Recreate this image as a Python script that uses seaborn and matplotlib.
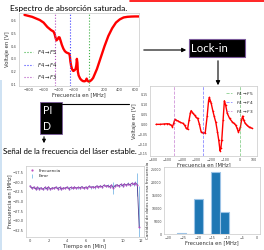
import numpy as np
import pandas as pd
import matplotlib
matplotlib.use("Agg")
import matplotlib.pyplot as plt
import seaborn as sns
from matplotlib.patches import Rectangle, FancyArrowPatch
from matplotlib.lines import Line2D

# ---------------- data ----------------
# saturated absorption spectrum (top-left)
abs_freq = [-850, -750, -650, -600, -550, -500, -470, -455, -440, -430, -415, -400, -390,
            -375, -360, -340, -320, -300, -280, -262, -255, -248, -238, -225, -210, -195,
            -180, -170, -163, -156, -150, -140, -120, -100, -80, -60, -45, -35, -25, -10,
            10, 30, 50, 100, 150, 200, 250, 300, 350, 400, 450, 500, 550, 600, 650]
abs_volt = [0.645, 0.63, 0.605, 0.585, 0.55, 0.525, 0.515, 0.495, 0.46, 0.445, 0.455, 0.47, 0.468,
            0.44, 0.41, 0.38, 0.36, 0.35, 0.345, 0.34, 0.32, 0.28, 0.245, 0.218, 0.205, 0.21,
            0.22, 0.25, 0.30, 0.27, 0.20, 0.17, 0.145, 0.132, 0.125, 0.124, 0.13, 0.145, 0.13, 0.122,
            0.125, 0.135, 0.15, 0.22, 0.31, 0.40, 0.48, 0.54, 0.585, 0.61, 0.625, 0.63, 0.632, 0.633, 0.633]

# lock-in (derivative) signal (middle-right)
der_freq = [-577, -550, -520, -500, -486, -472, -464, -456, -448, -437, -425, -410, -391, -380,
            -369, -360, -350, -340, -335, -325, -312, -300, -290, -278, -267, -251, -238, -225,
            -215, -210, -203, -197, -186, -176, -165, -154, -145, -136, -130, -124, -115, -106,
            -98, -86, -70, -52, -40, -29, -18, -11, -3, 5, 12, 20, 28, 38, 50, 61, 72, 84]
der_volt = [0.0, 0.0, 0.002, 0.003, 0.002, -0.005, -0.012, 0.005, 0.025, 0.02, 0.017, 0.01, 0.005, -0.005,
            -0.02, -0.025, 0.02, 0.06, 0.07, 0.058, 0.047, 0.035, 0.03, 0.0, -0.037, -0.045, -0.042, 0.04,
            0.12, 0.137, 0.12, 0.107, 0.07, 0.04, 0.01, -0.037, -0.08, -0.134, -0.12, -0.08, 0.02, 0.12,
            0.1, 0.056, 0.03, 0.013, 0.005, -0.003, -0.02, -0.037, -0.03, -0.012, 0.02, 0.042, 0.02, 0.005,
            -0.005, -0.012, -0.016, -0.02]

# hyperfine transitions
trans_labels = [r"$F4\rightarrow F5$", r"$F4\rightarrow F4$", r"$F4\rightarrow F3$"]
trans_freq = [0, -251, -452]
trans_colors = ["#3cb043", "#3a3aff", "#b04cc0"]

# stabilised frequency vs time (bottom-left)
t_min = [0.0, 0.2, 0.4, 0.6, 0.8, 1.0, 1.2, 1.4, 1.6, 1.8, 2.0, 2.2, 2.4, 2.6, 2.8, 3.0, 3.2, 3.4,
         3.6, 3.8, 4.0, 4.2, 4.4, 4.6, 4.8, 5.0, 5.2, 5.4, 5.6, 5.8, 6.0, 6.2, 6.4, 6.6, 6.8, 7.0,
         7.2, 7.4, 7.6, 7.8, 8.0, 8.2, 8.4, 8.6, 8.8, 9.0, 9.2, 9.4, 9.6, 9.8, 10.0, 10.2, 10.4,
         10.6, 10.8, 11.0, 11.2, 11.4, 11.6, 11.8]
f_mhz = [-20.9, -21.5, -21.2, -21.7, -21.3, -21.6, -21.4, -21.8, -21.3, -21.6, -21.2, -21.7, -21.4,
         -21.5, -21.2, -21.6, -21.3, -21.7, -21.4, -21.5, -21.2, -21.6, -21.3, -21.5, -21.2, -21.5,
         -21.3, -21.4, -21.1, -21.5, -21.2, -21.4, -21.0, -21.3, -21.1, -21.3, -20.9, -21.2, -20.9,
         -21.1, -20.7, -21.0, -20.8, -21.1, -20.7, -21.4, -20.8, -20.6, -20.9, -20.5, -20.8, -20.4,
         -20.7, -20.3, -20.6, -20.2, -20.5, -20.1, -20.6, -31.8]
f_err = [0.3, 0.3, 0.3, 0.3, 0.3, 0.3, 0.3, 0.3, 0.3, 0.3, 0.3, 0.3, 0.3, 0.3, 0.3, 0.3, 0.3, 0.3,
         0.3, 0.3, 0.3, 0.3, 0.3, 0.3, 0.3, 0.3, 0.3, 0.3, 0.3, 0.3, 0.3, 0.3, 0.3, 0.3, 0.3, 0.3,
         0.3, 0.3, 0.3, 0.3, 0.3, 0.3, 0.3, 0.3, 0.3, 1.5, 0.3, 0.3, 0.3, 0.3, 0.3, 0.3, 0.3,
         0.3, 0.3, 0.4, 0.5, 0.6, 3.0, 11.0]

# histogram of frequencies (bottom-right)
hist_edges = [-27.0, -24.1, -21.2, -18.3, -15.4, -12.5, -9.6]
hist_counts = [400, 0, 13400, 0, 23800, 8400]

# ---------------- figure ----------------
sns.set_style("white")
plt.rcParams['font.family'] = ['DejaVu Sans']

W, H = 264, 250
fig = plt.figure(figsize=(2.64, 2.5), dpi=100)


def rect(x0, y0, x1, y1):
    return [x0 / W, 1 - y1 / H, (x1 - x0) / W, (y1 - y0) / H]


def fx(px):
    return px / W


def fy(py):
    return 1 - py / H


def style(ax, tick=2.6):
    for s in ax.spines.values():
        s.set_color("#c8c8c8")
        s.set_linewidth(0.5)
    ax.tick_params(labelsize=tick, length=1.0, width=0.3, pad=0.6, colors="#444444")


lab = dict(fontsize=3.8, labelpad=0.4, color="#333333")

# --- top-left: absorption spectrum
ax1 = fig.add_axes(rect(19, 13, 139, 86))
sns.lineplot(x=abs_freq, y=abs_volt, ax=ax1, color="red", lw=1.7)
for lbl, fr, c in zip(trans_labels, trans_freq, trans_colors):
    ax1.axvline(fr, color=c, ls=":", lw=0.8, label=lbl)
ax1.set_xlim(-922, 652)
ax1.set_ylim(0.087, 0.66)
ax1.set_xticks([-800, -600, -400, -200, 0, 200, 400, 600])
ax1.set_yticks([0.1, 0.2, 0.3, 0.4, 0.5, 0.6])
ax1.set_xlabel("Frecuencia en [MHz]", **lab)
ax1.set_ylabel("Voltaje en [V]", **lab)
style(ax1)
ax1.legend(loc="lower left", fontsize=3.8, frameon=False, handlelength=1.6,
           labelspacing=0.8, borderaxespad=0.6)

# --- middle-right: lock-in signal
ax2 = fig.add_axes(rect(150, 86, 257, 156))
sns.lineplot(x=der_freq, y=der_volt, ax=ax2, color="red", lw=1.0,
             marker="o", markersize=1.2, markeredgewidth=0)
for lbl, fr, c in zip(trans_labels, trans_freq, trans_colors):
    ax2.axvline(fr, color=c, ls="--", lw=0.6, alpha=0.6, label=lbl)
ax2.set_xlim(-619, 119)
ax2.set_ylim(-0.161, 0.195)
ax2.set_xticks([-600, -500, -400, -300, -200, -100, 0, 100])
ax2.set_yticks([-0.15, -0.10, -0.05, 0.0, 0.05, 0.10, 0.15])
ax2.set_xlabel("Frecuencia en [MHz]", **lab)
ax2.set_ylabel("Voltaje en [V]", **lab)
style(ax2, tick=2.3)
ax2.legend(loc="upper right", fontsize=3.2, frameon=False, handlelength=1.4,
           labelspacing=0.5, borderaxespad=0.4)

# --- bottom-left: frequency vs time
ax3 = fig.add_axes(rect(26, 166, 144, 237))
eb = ax3.errorbar(t_min, f_mhz, yerr=f_err, fmt="none", ecolor="#8fc3ea",
                  elinewidth=0.7, label="Error")
sns.lineplot(x=t_min, y=f_mhz, ax=ax3, color="#4a3a8c", lw=0.6,
             marker="o", markersize=1.4, markeredgewidth=0, markerfacecolor="#b04cc0")
ax3.set_xlim(-0.43, 12.32)
ax3.set_ylim(-34.34, -15.66)
ax3.set_xticks([0, 2, 4, 6, 8, 10, 12])
ax3.set_yticks([-17.5, -20.0, -22.5, -25.0, -27.5, -30.0, -32.5])
ax3.set_xlabel("Tiempo en [Min]", **lab)
ax3.set_ylabel("Frecuencia en [MHz]", **lab)
style(ax3)
h_freq = Line2D([], [], ls="none", marker="o", markersize=1.6, color="#c050c0", markeredgewidth=0)
ax3.legend([h_freq, eb], ["Frecuencia", "Error"], loc="upper left", fontsize=3.0,
           frameon=False, handlelength=1.6, labelspacing=0.4, borderaxespad=0.2)

# --- bottom-right: histogram
ax4 = fig.add_axes(rect(164, 167, 260, 234))
centers = [(a + b) / 2 for a, b in zip(hist_edges[:-1], hist_edges[1:])]
sns.histplot(x=centers, weights=hist_counts, bins=hist_edges, ax=ax4,
             color="#1f77b4", alpha=1.0, edgecolor="#9cc3e6", linewidth=0.8)
ax4.set_xlim(-31.35, 1.0)
ax4.set_ylim(0, 25800)
ax4.set_xticks([-30, -25, -20, -15, -10, -5, 0])
ax4.set_yticks([0, 5000, 10000, 15000, 20000, 25000])
ax4.set_xlabel("Frecuencia en [MHz]", **lab)
ax4.set_ylabel("Cantidad de datos con esa frecuencia", fontsize=3.0, labelpad=1.0, color="#333333")
style(ax4, tick=2.3)

# ---------------- slide decorations ----------------
slide_font = ['Lato', 'DejaVu Sans']
fig.add_artist(Line2D([fx(130), fx(264)], [fy(0.6), fy(0.6)], color="red", lw=1.2,
                      transform=fig.transFigure))
fig.add_artist(Rectangle((0, fy(250)), fx(1.6), (250 - 80) / H, transform=fig.transFigure,
                         facecolor="#cfe2f3", edgecolor="none"))

fig.text(fx(10), fy(8), "Espectro de absorción saturada.", fontsize=6.0, family=slide_font,
         ha="left", va="center", color="black")
fig.text(fx(3), fy(151), "Señal de la frecuencia del láser estable.", fontsize=5.7,
         family=slide_font, ha="left", va="center", color="black")

# Lock-in box
fig.add_artist(Rectangle((fx(189), fy(57)), 56 / W, 18 / H, transform=fig.transFigure,
                         facecolor="black", edgecolor="#7a5a9a", lw=0.8))
fig.text(fx(191), fy(48.5), "Lock-in", fontsize=8.2, family=slide_font, color="white",
         ha="left", va="center")
fig.add_artist(FancyArrowPatch((fx(141), fy(50)), (fx(189), fy(50)), transform=fig.transFigure,
                               arrowstyle="-|>", mutation_scale=6, color="black", lw=0.8))
fig.add_artist(FancyArrowPatch((fx(218), fy(58)), (fx(218), fy(88)), transform=fig.transFigure,
                               arrowstyle="-|>", mutation_scale=6, color="black", lw=0.8))

# PID box
fig.add_artist(Rectangle((fx(40), fy(134)), 22 / W, 32 / H, transform=fig.transFigure,
                         facecolor="black", edgecolor="#7a5a9a", lw=0.6))
fig.text(fx(42.5), fy(111), "PI", fontsize=7.6, family=slide_font, color="white",
         ha="left", va="center")
fig.text(fx(42.5), fy(127), "D", fontsize=7.6, family=slide_font, color="white",
         ha="left", va="center")
fig.add_artist(Line2D([fx(62), fx(129)], [fy(104), fy(104)], color="black", lw=0.8,
                      transform=fig.transFigure))
fig.add_artist(FancyArrowPatch((fx(44), fy(134)), (fx(44), fy(146)), transform=fig.transFigure,
                               arrowstyle="-|>", mutation_scale=5, color="black", lw=0.8))

fig.savefig("out.png", dpi=100)
